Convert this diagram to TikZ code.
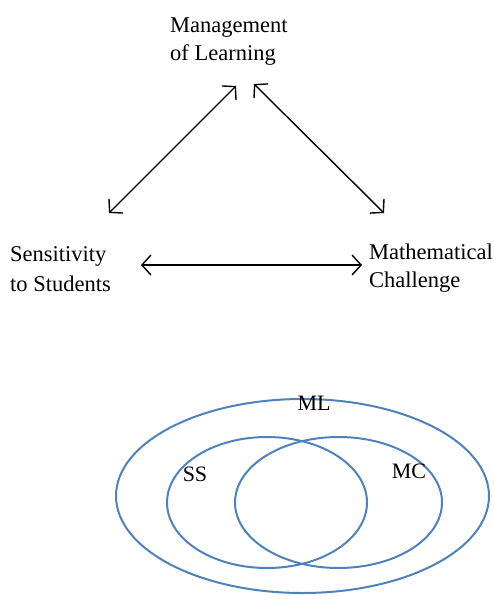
\documentclass[tikz,border=0pt]{standalone}
\usepackage{fontspec}
\setmainfont{Liberation Serif}
\usetikzlibrary{arrows.meta}
\definecolor{venn}{HTML}{4F81BD}
\begin{document}
\begin{tikzpicture}[x=1pt,y=-1pt,
  lab/.style={inner sep=0pt, anchor=base west, align=left, font=\fontsize{22.5}{28}\selectfont},
  link/.style={draw=black, line width=1.4pt, {Straight Barb[length=9pt,width=20pt]}-{Straight Barb[length=9pt,width=20pt]}},
  ring/.style={draw=venn, line width=2pt},
  vlab/.style={inner sep=0pt, anchor=base, font=\fontsize{22}{26}\selectfont}]
\useasboundingbox (0,0) rectangle (494,599);
\node[lab] (ml) at (170,61) {Management\\of Learning};
\node[lab] (ss) at (10,291) {Sensitivity\\[2pt]to Students};
\node[lab] (mc) at (369,287) {Mathematical\\Challenge};
\coordinate (a1) at (236,86);
\coordinate (a2) at (109,213);
\coordinate (b1) at (254,84);
\coordinate (b2) at (384,213);
\coordinate (c1) at (141,265);
\coordinate (c2) at (362,265);
\draw[link] (a2) -- (a1);
\draw[link] (b1) -- (b2);
\draw[link] (c1) -- (c2);
\draw[ring] (302.5,496) ellipse [x radius=186.5pt, y radius=97pt];
\draw[ring] (267,502.5) ellipse [x radius=100pt, y radius=65.5pt];
\draw[ring] (338.5,502.5) ellipse [x radius=103.5pt, y radius=65.5pt];
\node[vlab] (mlv) at (314,410) {ML};
\node[vlab] (ssv) at (195,481) {SS};
\node[vlab] (mcv) at (409,478) {MC};
\end{tikzpicture}
\end{document}
